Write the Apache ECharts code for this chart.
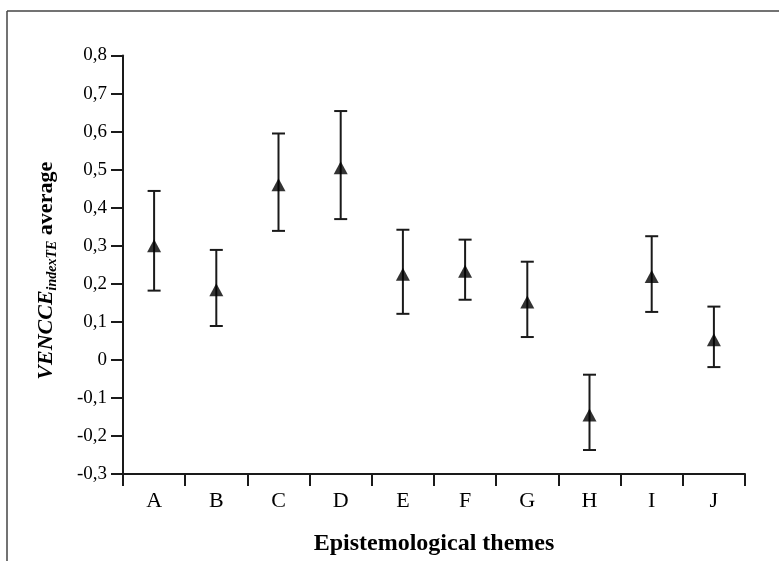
<!DOCTYPE html>
<html>
<head>
<meta charset="utf-8">
<script src="https://cdn.jsdelivr.net/npm/echarts@6/dist/echarts.min.js"></script>
<style>
  html, body { margin: 0; padding: 0; background: #fff; }
  #chart { width: 779px; height: 561px; }
</style>
</head>
<body>
<div id="chart"></div>
<script>
// 主题类别与均值、误差上下限
const themes = ['A', 'B', 'C', 'D', 'E', 'F', 'G', 'H', 'I', 'J']
const means = [0.30, 0.184, 0.46, 0.505, 0.225, 0.233, 0.152, -0.145, 0.219, 0.053]
const upper = [0.444, 0.289, 0.595, 0.654, 0.342, 0.316, 0.258, -0.039, 0.325, 0.140]
const lower = [0.182, 0.089, 0.339, 0.370, 0.121, 0.158, 0.060, -0.237, 0.126, -0.019]

const serif = '"Liberation Serif", "Times New Roman", serif'
const ink = '#1a1a1a'

const chart = echarts.init(document.getElementById('chart'))

const option = {
  animation: false,
  backgroundColor: '#fff',
  graphic: [
    // 外框（仅上、左两边可见）
    { type: 'line', shape: { x1: 7, y1: 11, x2: 779, y2: 11 }, style: { stroke: '#444', lineWidth: 1.5 } },
    { type: 'line', shape: { x1: 7, y1: 11, x2: 7, y2: 561 }, style: { stroke: '#444', lineWidth: 1.5 } },
  ],
  grid: {
    left: 123,
    right: 34,
    top: 55.5,
    bottom: 87,
  },
  xAxis: {
    type: 'category',
    data: themes,
    boundaryGap: true,
    name: 'Epistemological themes',
    nameLocation: 'middle',
    nameGap: 58,
    nameTextStyle: { fontFamily: serif, fontSize: 24, fontWeight: 'bold', color: '#000' },
    axisLine: { onZero: false, lineStyle: { color: ink, width: 2 } },
    axisTick: { show: true, inside: false, length: 12, alignWithLabel: false, lineStyle: { color: ink, width: 2 } },
    axisLabel: { fontFamily: serif, fontSize: 22, color: '#000', margin: 16 },
    splitLine: { show: false },
  },
  yAxis: {
    type: 'value',
    min: -0.3,
    max: 0.8,
    interval: 0.1,
    name: '{a|VENCCE}{b|indexTE}{c| average}',
    nameLocation: 'middle',
    nameGap: 64,
    nameTextStyle: {
      padding: [0, 12, 0, 0],
      rich: {
        a: { fontFamily: serif, fontSize: 22, fontWeight: 'bold', fontStyle: 'italic', color: '#000' },
        b: { fontFamily: serif, fontSize: 14, fontWeight: 'bold', fontStyle: 'italic', color: '#000', padding: [11, 0, 0, 0] },
        c: { fontFamily: serif, fontSize: 22, fontWeight: 'bold', color: '#000' },
      },
    },
    axisLine: { show: true, lineStyle: { color: ink, width: 2 } },
    axisTick: { show: true, inside: false, length: 12, lineStyle: { color: ink, width: 2 } },
    axisLabel: {
      fontFamily: serif,
      fontSize: 19,
      color: '#000',
      margin: 16,
      formatter: v => {
        const r = Math.round(v * 10) / 10
        return r === 0 ? '0' : r.toFixed(1).replace('.', ',')
      },
    },
    splitLine: { show: false },
  },
  series: [
    {
      // 误差线
      type: 'custom',
      data: themes.map((t, i) => [i, lower[i], upper[i]]),
      renderItem(params, api) {
        const lo = api.coord([api.value(0), api.value(1)])
        const hi = api.coord([api.value(0), api.value(2)])
        const half = 6.5
        const style = { stroke: ink, lineWidth: 2 }
        return {
          type: 'group',
          children: [
            { type: 'line', shape: { x1: lo[0], y1: lo[1], x2: hi[0], y2: hi[1] }, style },
            { type: 'line', shape: { x1: hi[0] - half, y1: hi[1], x2: hi[0] + half, y2: hi[1] }, style },
            { type: 'line', shape: { x1: lo[0] - half, y1: lo[1], x2: lo[0] + half, y2: lo[1] }, style },
          ],
        }
      },
      z: 2,
    },
    {
      // 均值三角形
      type: 'scatter',
      data: means,
      symbol: 'triangle',
      symbolSize: [14, 13],
      itemStyle: { color: '#000' },
      z: 3,
    },
  ],
}

chart.setOption(option)
</script>
</body>
</html>
